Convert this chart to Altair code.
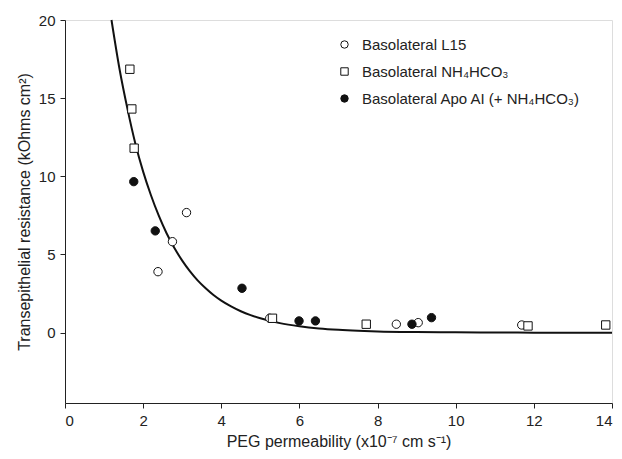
import altair as alt
import pandas as pd

series = ["Basolateral L15", "Basolateral NH₄HCO₃", "Basolateral Apo AI (+ NH₄HCO₃)"]

l15_x = [5.24, 3.11, 2.75, 2.38, 8.48, 9.04, 11.69]
l15_y = [0.92, 7.68, 5.82, 3.90, 0.54, 0.64, 0.49]
nh_x = [1.66, 1.71, 1.77, 5.31, 7.71, 11.85, 13.84]
nh_y = [16.85, 14.31, 11.80, 0.92, 0.54, 0.43, 0.49]
apo_x = [1.76, 2.31, 4.53, 5.99, 6.41, 8.88, 9.38]
apo_y = [9.66, 6.51, 2.84, 0.75, 0.75, 0.54, 0.96]

fit_x = [1.19, 1.4, 1.6, 1.8, 2.0, 2.2, 2.4, 2.6, 2.8, 3.0, 3.2, 3.4, 3.6, 3.8, 4.0, 4.25, 4.5,
         4.75, 5.0, 5.5, 6.0, 6.5, 7.0, 7.5, 8.0, 9.0, 10.0, 11.0, 12.0, 13.0, 14.0]
fit_y = [20.0, 16.8, 14.3, 12.1, 10.3, 8.79, 7.48, 6.36, 5.41, 4.61, 3.92, 3.33, 2.84, 2.41, 2.05,
         1.68, 1.37, 1.12, 0.92, 0.61, 0.41, 0.27, 0.18, 0.12, 0.08, 0.04, 0.02, 0.01, 0.0, 0.0, 0.0]

rows = []
for name, xs, ys in [(series[0], l15_x, l15_y), (series[1], nh_x, nh_y), (series[2], apo_x, apo_y)]:
    for xv, yv in zip(xs, ys):
        rows.append({"x": xv, "y": yv, "series": name})
pts = pd.DataFrame(rows)
fit = pd.DataFrame({"x": fit_x, "y": fit_y})

FONT = "Liberation Sans"
INK = "#222"

xscale = alt.Scale(domain=[0, 14], nice=False, zero=False)
yscale = alt.Scale(domain=[-4.5, 20], nice=False, zero=False)

common = dict(grid=False, labelFontSize=15, titleFontSize=16, titleFontWeight="normal",
              labelFont=FONT, titleFont=FONT, tickSize=5, domainColor=INK, tickColor=INK,
              labelColor=INK, titleColor=INK, domainWidth=1, tickWidth=1)

xaxis = alt.Axis(values=[0, 2, 4, 6, 8, 10, 12, 14], title="PEG permeability (x10⁻⁷ cm s⁻¹)",
                 labelPadding=5, titlePadding=5, **common)
yaxis = alt.Axis(values=[0, 5, 10, 15, 20], title="Transepithelial resistance (kOhms cm²)",
                 labelPadding=5, titlePadding=6, **common)

line = alt.Chart(fit).mark_line(color="#111", strokeWidth=2, interpolate="monotone").encode(
    x=alt.X("x:Q", scale=xscale, axis=xaxis),
    y=alt.Y("y:Q", scale=yscale, axis=yaxis),
)

legend = alt.Legend(
    title=None, orient="none", legendX=272, legendY=17, labelFont=FONT, labelFontSize=15,
    labelColor=INK, rowPadding=11, labelOffset=10, labelLimit=400, symbolSize=55,
    symbolStrokeWidth=1,
)

points = alt.Chart(pts).mark_point(filled=False, strokeWidth=1, opacity=1, size=70).encode(
    x=alt.X("x:Q", scale=xscale),
    y=alt.Y("y:Q", scale=yscale),
    shape=alt.Shape("series:N", scale=alt.Scale(domain=series, range=["circle", "square", "circle"]),
                    legend=legend),
    fill=alt.Fill("series:N", scale=alt.Scale(domain=series, range=["white", "white", "#111"]),
                  legend=legend),
    stroke=alt.Stroke("series:N", scale=alt.Scale(domain=series, range=["#111", "#111", "#111"]),
                      legend=legend),
)

chart = alt.layer(line, points).properties(
    width=547, height=383,
    autosize=alt.AutoSizeParams(type="none"),
    padding={"left": 57, "top": 12, "right": 2, "bottom": 48},
).configure_view(stroke=None).configure(background="white")

chart.save("out.html", embed_options={"renderer": "svg", "actions": False})
